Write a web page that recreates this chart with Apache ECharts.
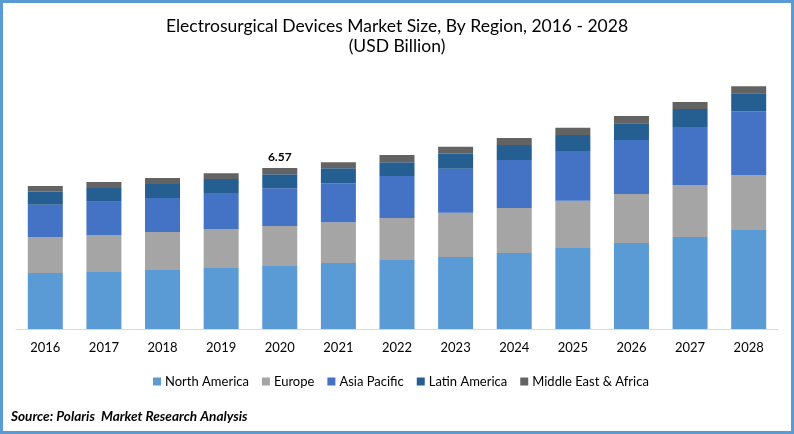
<!DOCTYPE html>
<html>
<head>
<meta charset="utf-8">
<style>
  html, body { margin: 0; padding: 0; background: #fff; }
  #main { width: 794px; height: 434px; }
</style>
<script src="https://cdn.jsdelivr.net/npm/echarts@6/dist/echarts.min.js"></script>
</head>
<body>
<div id="main"></div>
<script>
// values (USD billion)
const years = ['2016', '2017', '2018', '2019', '2020', '2021', '2022', '2023', '2024', '2025', '2026', '2027', '2028'];
const northAmerica = [2.29, 2.33, 2.41, 2.49, 2.57, 2.69, 2.82, 2.94, 3.10, 3.31, 3.51, 3.76, 4.04];
const europe = [1.47, 1.51, 1.55, 1.59, 1.63, 1.67, 1.71, 1.80, 1.84, 1.92, 2.00, 2.12, 2.24];
const asiaPacific = [1.31, 1.35, 1.39, 1.47, 1.55, 1.59, 1.71, 1.80, 1.96, 2.04, 2.20, 2.37, 2.61];
const latinAmerica = [0.53, 0.57, 0.57, 0.57, 0.57, 0.61, 0.57, 0.61, 0.61, 0.65, 0.69, 0.73, 0.73];
const middleEastAfrica = [0.24, 0.24, 0.24, 0.24, 0.25, 0.25, 0.29, 0.29, 0.29, 0.29, 0.29, 0.29, 0.29];
const labelYear = '2020';
const labelValue = '6.57';

const font = 'Lato';
const chart = echarts.init(document.getElementById('main'));

function barSeries(name, values, color) {
  return {
    name: name,
    type: 'bar',
    stack: 'total',
    barWidth: 35,
    itemStyle: { color: color },
    data: values
  };
}

const topSeries = barSeries('Middle East & Africa', middleEastAfrica, '#636363');
topSeries.label = {
  show: true,
  position: 'top',
  distance: 5,
  fontFamily: font,
  fontSize: 12,
  fontWeight: 'bold',
  color: '#000',
  // only one total is printed in the picture
  formatter: function (p) {
    return p.name === labelYear ? labelValue : '';
  }
};

chart.setOption({
  animation: false,
  backgroundColor: '#fff',
  title: {
    text: 'Electrosurgical Devices Market Size, By Region, 2016 - 2028\n(USD Billion)',
    left: 397,
    top: 16,
    padding: 0,
    textAlign: 'center',
    textStyle: {
      fontFamily: font,
      fontSize: 17.5,
      fontWeight: 'normal',
      color: '#000',
      lineHeight: 20
    }
  },
  legend: {
    left: 148,
    top: 370,
    itemWidth: 8,
    itemHeight: 8,
    itemGap: 13,
    icon: 'rect',
    textStyle: { fontFamily: font, fontSize: 13, color: '#000', padding: [0, 0, 0, -1] },
    data: ['North America', 'Europe', 'Asia Pacific', 'Latin America', 'Middle East & Africa']
  },
  grid: { left: 16, right: 16, top: 84, height: 245 },
  xAxis: {
    type: 'category',
    data: years,
    axisLine: { lineStyle: { color: '#d9d9d9', width: 1 } },
    axisTick: { show: false },
    axisLabel: { fontFamily: font, fontSize: 13, color: '#000', margin: 12 }
  },
  yAxis: { type: 'value', min: 0, max: 10, show: false, splitLine: { show: false } },
  series: [
    barSeries('North America', northAmerica, '#5b9bd5'),
    barSeries('Europe', europe, '#a5a5a5'),
    barSeries('Asia Pacific', asiaPacific, '#4472c4'),
    barSeries('Latin America', latinAmerica, '#255e91'),
    topSeries
  ],
  graphic: [
    {
      type: 'rect',
      shape: { x: 1.5, y: 1.5, width: 791, height: 431 },
      style: { fill: 'none', stroke: '#5b9bd5', lineWidth: 3 },
      silent: true
    },
    {
      type: 'text',
      left: 11,
      top: 410,
      style: {
        text: 'Source: Polaris  Market Research Analysis',
        fontFamily: font,
        fontSize: 13.6,
        fontWeight: 'bold',
        fontStyle: 'italic',
        fill: '#000'
      }
    }
  ]
});
</script>
</body>
</html>
